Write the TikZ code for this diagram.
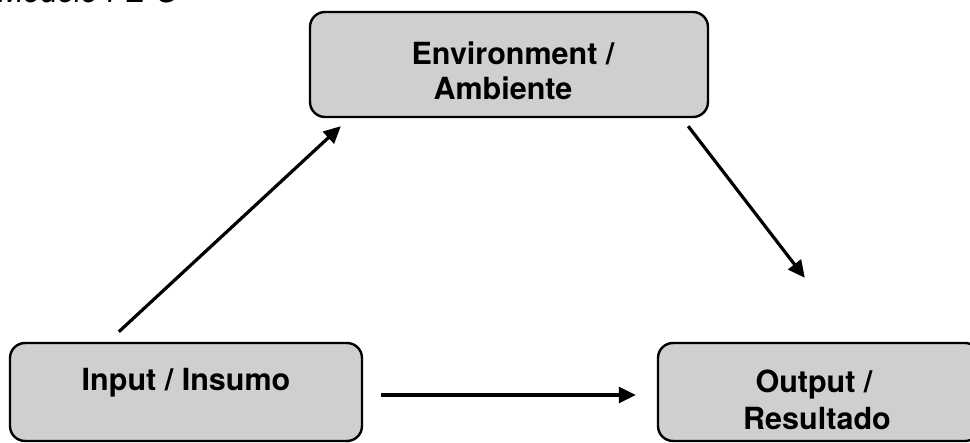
\documentclass[tikz,border=0pt]{standalone}
\usepackage{fontspec}
\setmainfont{TeX Gyre Heros}
\usetikzlibrary{arrows.meta,calc}
\definecolor{boxgray}{RGB}{208,206,208}
\tikzset{
  box/.style={draw=black, line width=2.4pt, fill=boxgray, rounded corners=15pt, inner sep=0pt},
  lbl/.style={font=\fontsize{30.5}{36}\selectfont\bfseries, inner sep=0pt, anchor=base},
  ttl/.style={font=\fontsize{30.5}{36}\selectfont\itshape, inner sep=0pt, anchor=base west},
  arr/.style={line width=3.2pt, -{Triangle[length=17pt,width=16pt]}}
}
\begin{document}
\begin{tikzpicture}[x=1pt,y=-1pt]
\useasboundingbox (0,0) rectangle (970,443);
% boxes
\node[box, minimum width=398pt, minimum height=105pt] (env) at (509,64.5) {};
\node[box, minimum width=352pt, minimum height=98pt] (inp) at (186,392) {};
\node[box, minimum width=322pt, minimum height=98pt] (out) at (819,392) {};
% texts
\node[ttl] (title) at (-2,3) {Modelo I-E-O};
\node[lbl] (envA) at (513,65) {Environment /};
\node[lbl] (envB) at (503,100) {Ambiente};
\node[lbl] (inpA) at (186,391) {Input / Insumo};
\node[lbl] (outA) at (814,393) {Output /};
\node[lbl] (outB) at (817,430) {Resultado};
% connector ends
\coordinate (a1s) at ($(inp.north west)+(110,-10)$);
\coordinate (a1e) at ($(env.south west)+(32,8)$);
\coordinate (a2s) at ($(env.south east)+(-21,8)$);
\coordinate (a2e) at ($(out.north west)+(148,-64)$);
\coordinate (a3s) at ($(inp.east)+(18,3)$);
\coordinate (a3e) at ($(out.west)+(-21,3)$);
% connectors
\draw[arr] (a1s) -- (a1e);
\draw[arr] (a2s) -- (a2e);
\draw[arr] (a3s) -- (a3e);
\end{tikzpicture}
\end{document}
